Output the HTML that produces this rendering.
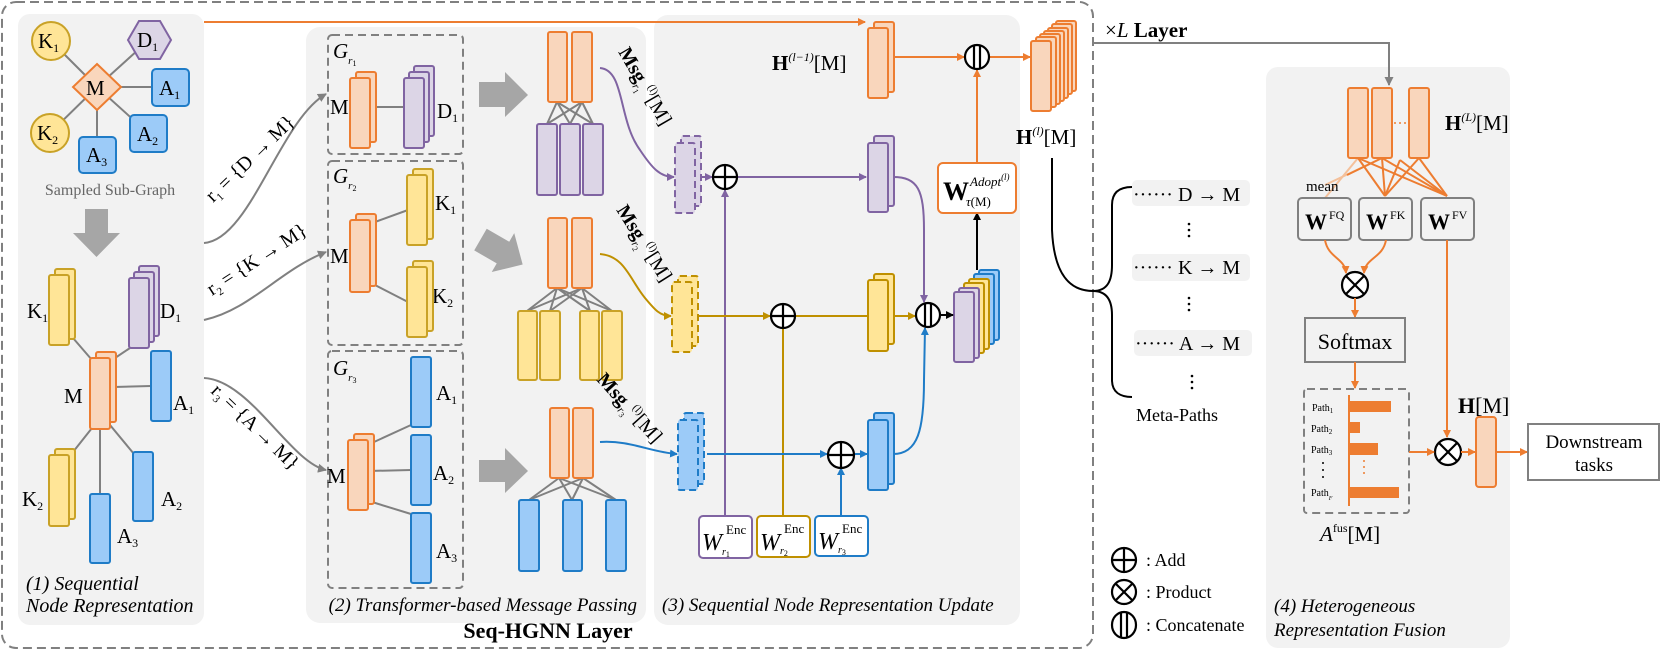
<!DOCTYPE html>
<html><head><meta charset="utf-8"><style>
html,body{margin:0;padding:0;background:#fff;}
svg{display:block;font-family:"Liberation Serif",serif;}
</style></head><body>
<svg width="1660" height="651" viewBox="0 0 1660 651" xmlns="http://www.w3.org/2000/svg">
<defs>
<marker id="ao" markerWidth="8" markerHeight="8" refX="7" refY="4" orient="auto" markerUnits="userSpaceOnUse"><path d="M0,0 L8,4 L0,8 z" fill="#ED7D31"/></marker>
<marker id="ap" markerWidth="8" markerHeight="8" refX="7" refY="4" orient="auto" markerUnits="userSpaceOnUse"><path d="M0,0 L8,4 L0,8 z" fill="#8064A2"/></marker>
<marker id="ay" markerWidth="8" markerHeight="8" refX="7" refY="4" orient="auto" markerUnits="userSpaceOnUse"><path d="M0,0 L8,4 L0,8 z" fill="#BF9000"/></marker>
<marker id="ab" markerWidth="8" markerHeight="8" refX="7" refY="4" orient="auto" markerUnits="userSpaceOnUse"><path d="M0,0 L8,4 L0,8 z" fill="#1F7CC7"/></marker>
<marker id="ag" markerWidth="9" markerHeight="9" refX="8" refY="4.5" orient="auto" markerUnits="userSpaceOnUse"><path d="M0,0 L9,4.5 L0,9 z" fill="#808080"/></marker>
<marker id="ak" markerWidth="8" markerHeight="8" refX="7" refY="4" orient="auto" markerUnits="userSpaceOnUse"><path d="M0,0 L8,4 L0,8 z" fill="#000"/></marker>
</defs>

<rect x="18" y="14" width="186" height="611" rx="12" fill="#F2F2F2"/>
<rect x="306" y="27" width="340" height="596" rx="14" fill="#F2F2F2"/>
<rect x="654" y="15" width="366" height="610" rx="14" fill="#F2F2F2"/>
<rect x="1266" y="67" width="244" height="581" rx="12" fill="#F2F2F2"/>
<rect x="2" y="2" width="1091" height="646" rx="14" fill="none" stroke="#808080" stroke-width="2" stroke-dasharray="9,5"/>

<line x1="204" y1="22" x2="865" y2="22" stroke="#ED7D31" stroke-width="2" marker-end="url(#ao)"/>

<!-- Panel 1 -->
<g stroke="#808080" stroke-width="2">
<line x1="97" y1="87" x2="51" y2="41"/><line x1="97" y1="87" x2="149" y2="40"/>
<line x1="97" y1="87" x2="170" y2="87"/><line x1="97" y1="87" x2="148" y2="133"/>
<line x1="97" y1="87" x2="97" y2="155"/><line x1="97" y1="87" x2="50" y2="133"/>
</g>
<circle cx="51" cy="41" r="19" fill="#FFE597" stroke="#C9A227" stroke-width="2"/>
<circle cx="50" cy="133" r="19" fill="#FFE597" stroke="#C9A227" stroke-width="2"/>
<polygon points="128,40 139,21 160,21 171,40 160,59 139,59" fill="#DCD5E6" stroke="#8064A2" stroke-width="2"/>
<polygon points="97,64 121,87 97,110 73,87" fill="#F9D6BC" stroke="#ED7D31" stroke-width="2"/>
<rect x="152" y="69" width="37" height="37" rx="4" fill="#9CCBF8" stroke="#1F7CC7" stroke-width="2"/>
<rect x="130" y="115" width="37" height="37" rx="4" fill="#9CCBF8" stroke="#1F7CC7" stroke-width="2"/>
<rect x="79" y="137" width="37" height="36" rx="4" fill="#9CCBF8" stroke="#1F7CC7" stroke-width="2"/>
<g font-size="21" fill="#000">
<text x="38" y="48">K<tspan font-size="12" dy="4">1</tspan></text>
<text x="37" y="140">K<tspan font-size="12" dy="4">2</tspan></text>
<text x="137" y="47">D<tspan font-size="12" dy="4">1</tspan></text>
<text x="86" y="95">M</text>
<text x="159" y="95">A<tspan font-size="12" dy="4">1</tspan></text>
<text x="137" y="141">A<tspan font-size="12" dy="4">2</tspan></text>
<text x="86" y="162">A<tspan font-size="12" dy="4">3</tspan></text>
</g>
<text x="110" y="195" font-size="16" fill="#666" text-anchor="middle">Sampled Sub-Graph</text>
<polygon points="85,209 108,209 108,233 120,233 96.5,257 73,233 85,233" fill="#A6A6A6"/>

<g stroke="#808080" stroke-width="2">
<line x1="73" y1="338" x2="92" y2="360"/><line x1="130" y1="348" x2="112" y2="360"/>
<line x1="114" y1="387" x2="151" y2="386"/><line x1="92" y1="428" x2="73" y2="452"/>
<line x1="100" y1="429" x2="100" y2="494"/><line x1="110" y1="425" x2="134" y2="454"/>
</g>
<rect x="55" y="269" width="20" height="70" rx="2" fill="#FFE597" stroke="#C9A227" stroke-width="2"/>
<rect x="49" y="275" width="20" height="70" rx="2" fill="#FFE597" stroke="#C9A227" stroke-width="2"/>
<rect x="139" y="266" width="20" height="70" rx="2" fill="#DCD5E6" stroke="#8064A2" stroke-width="2"/>
<rect x="134" y="272" width="20" height="70" rx="2" fill="#DCD5E6" stroke="#8064A2" stroke-width="2"/>
<rect x="129" y="278" width="20" height="70" rx="2" fill="#DCD5E6" stroke="#8064A2" stroke-width="2"/>
<rect x="96" y="352" width="20" height="70" rx="2" fill="#F9D6BC" stroke="#ED7D31" stroke-width="2"/>
<rect x="90" y="358" width="20" height="71" rx="2" fill="#F9D6BC" stroke="#ED7D31" stroke-width="2"/>
<rect x="151" y="351" width="20" height="70" rx="2" fill="#9CCBF8" stroke="#1F7CC7" stroke-width="2"/>
<rect x="55" y="449" width="20" height="70" rx="2" fill="#FFE597" stroke="#C9A227" stroke-width="2"/>
<rect x="49" y="455" width="20" height="71" rx="2" fill="#FFE597" stroke="#C9A227" stroke-width="2"/>
<rect x="90" y="494" width="20" height="69" rx="2" fill="#9CCBF8" stroke="#1F7CC7" stroke-width="2"/>
<rect x="133" y="452" width="20" height="69" rx="2" fill="#9CCBF8" stroke="#1F7CC7" stroke-width="2"/>
<g font-size="21" fill="#000">
<text x="27" y="318">K<tspan font-size="12" dy="4">1</tspan></text>
<text x="160" y="318">D<tspan font-size="12" dy="4">1</tspan></text>
<text x="64" y="403">M</text>
<text x="173" y="410">A<tspan font-size="12" dy="4">1</tspan></text>
<text x="22" y="506">K<tspan font-size="12" dy="4">2</tspan></text>
<text x="161" y="506">A<tspan font-size="12" dy="4">2</tspan></text>
<text x="117" y="543">A<tspan font-size="12" dy="4">3</tspan></text>
</g>
<g font-size="20" font-style="italic" fill="#000">
<text x="26" y="590">(1) Sequential</text>
<text x="26" y="612">Node Representation</text>
</g>

<g stroke="#808080" stroke-width="2" fill="none">
<path d="M204,243 C250,240 280,120 326,94" marker-end="url(#ag)"/>
<path d="M204,320 C250,310 280,270 326,252" marker-end="url(#ag)"/>
<path d="M204,378 C250,380 290,462 326,470" marker-end="url(#ag)"/>
</g>
<g font-size="20" fill="#000">
<text transform="translate(213,203) rotate(-44)">r<tspan font-size="11" dy="4">1</tspan><tspan dy="-4"> = {D → M}</tspan></text>
<text transform="translate(212,296) rotate(-33)">r<tspan font-size="11" dy="4">2</tspan><tspan dy="-4"> = {K → M}</tspan></text>
<text transform="translate(210,392) rotate(44)">r<tspan font-size="11" dy="4">3</tspan><tspan dy="-4"> = {A → M}</tspan></text>
</g>

<!-- Panel 2 -->
<g fill="none" stroke="#808080" stroke-width="2" stroke-dasharray="8,5">
<rect x="328" y="35" width="135" height="119" rx="4"/>
<rect x="328" y="161" width="135" height="184" rx="4"/>
<rect x="328" y="351" width="135" height="237" rx="4"/>
</g>
<g font-size="21" font-style="italic" fill="#000">
<text x="333" y="58">G<tspan font-size="11" dy="6">r</tspan><tspan font-size="8" dy="2" font-style="normal">1</tspan></text>
<text x="333" y="183">G<tspan font-size="11" dy="6">r</tspan><tspan font-size="8" dy="2" font-style="normal">2</tspan></text>
<text x="333" y="375">G<tspan font-size="11" dy="6">r</tspan><tspan font-size="8" dy="2" font-style="normal">3</tspan></text>
</g>
<g font-size="21" fill="#000">
<text x="330" y="114">M</text><text x="330" y="263">M</text><text x="327" y="483">M</text>
<text x="437" y="118">D<tspan font-size="12" dy="4">1</tspan></text>
<text x="435" y="210">K<tspan font-size="12" dy="4">1</tspan></text>
<text x="432" y="303">K<tspan font-size="12" dy="4">2</tspan></text>
<text x="436" y="400">A<tspan font-size="12" dy="4">1</tspan></text>
<text x="433" y="480">A<tspan font-size="12" dy="4">2</tspan></text>
<text x="436" y="558">A<tspan font-size="12" dy="4">3</tspan></text>
</g>
<g stroke="#808080" stroke-width="2">
<line x1="370" y1="107" x2="404" y2="107"/>
<line x1="375" y1="222" x2="408" y2="210"/><line x1="373" y1="284" x2="408" y2="302"/>
<line x1="374" y1="442" x2="411" y2="425"/><line x1="368" y1="471" x2="411" y2="470"/><line x1="372" y1="502" x2="411" y2="514"/>
</g>
<rect x="356" y="72" width="20" height="70" rx="2" fill="#F9D6BC" stroke="#ED7D31" stroke-width="2"/>
<rect x="350" y="78" width="20" height="70" rx="2" fill="#F9D6BC" stroke="#ED7D31" stroke-width="2"/>
<rect x="414" y="66" width="20" height="70" rx="2" fill="#DCD5E6" stroke="#8064A2" stroke-width="2"/>
<rect x="409" y="72" width="20" height="70" rx="2" fill="#DCD5E6" stroke="#8064A2" stroke-width="2"/>
<rect x="404" y="78" width="20" height="70" rx="2" fill="#DCD5E6" stroke="#8064A2" stroke-width="2"/>
<rect x="356" y="214" width="20" height="72" rx="2" fill="#F9D6BC" stroke="#ED7D31" stroke-width="2"/>
<rect x="350" y="220" width="20" height="72" rx="2" fill="#F9D6BC" stroke="#ED7D31" stroke-width="2"/>
<rect x="413" y="169" width="20" height="70" rx="2" fill="#FFE597" stroke="#C9A227" stroke-width="2"/>
<rect x="407" y="175" width="20" height="70" rx="2" fill="#FFE597" stroke="#C9A227" stroke-width="2"/>
<rect x="413" y="261" width="20" height="70" rx="2" fill="#FFE597" stroke="#C9A227" stroke-width="2"/>
<rect x="407" y="267" width="20" height="70" rx="2" fill="#FFE597" stroke="#C9A227" stroke-width="2"/>
<rect x="354" y="434" width="20" height="70" rx="2" fill="#F9D6BC" stroke="#ED7D31" stroke-width="2"/>
<rect x="348" y="440" width="20" height="70" rx="2" fill="#F9D6BC" stroke="#ED7D31" stroke-width="2"/>
<rect x="411" y="357" width="20" height="70" rx="2" fill="#9CCBF8" stroke="#1F7CC7" stroke-width="2"/>
<rect x="411" y="435" width="20" height="70" rx="2" fill="#9CCBF8" stroke="#1F7CC7" stroke-width="2"/>
<rect x="411" y="513" width="20" height="70" rx="2" fill="#9CCBF8" stroke="#1F7CC7" stroke-width="2"/>

<polygon points="479,82 505,82 505,72 528,95 505,117 505,107 479,107" fill="#A6A6A6"/>
<polygon points="479,82 505,82 505,72 528,95 505,117 505,107 479,107" fill="#A6A6A6" transform="translate(-2,157) rotate(30 503 95)"/>
<polygon points="479,460 505,460 505,448 528,471 505,493 505,482 479,482" fill="#A6A6A6"/>

<g stroke="#808080" stroke-width="2">
<line x1="557" y1="102" x2="547" y2="124"/><line x1="557" y1="102" x2="570" y2="124"/><line x1="557" y1="102" x2="593" y2="124"/>
<line x1="582" y1="102" x2="547" y2="124"/><line x1="582" y1="102" x2="570" y2="124"/><line x1="582" y1="102" x2="593" y2="124"/>
<line x1="557" y1="288" x2="527" y2="311"/><line x1="557" y1="288" x2="550" y2="311"/><line x1="557" y1="288" x2="590" y2="311"/><line x1="557" y1="288" x2="612" y2="311"/>
<line x1="582" y1="288" x2="527" y2="311"/><line x1="582" y1="288" x2="550" y2="311"/><line x1="582" y1="288" x2="590" y2="311"/><line x1="582" y1="288" x2="612" y2="311"/>
<line x1="559" y1="478" x2="529" y2="500"/><line x1="559" y1="478" x2="572" y2="500"/><line x1="559" y1="478" x2="616" y2="500"/>
<line x1="583" y1="478" x2="529" y2="500"/><line x1="583" y1="478" x2="572" y2="500"/><line x1="583" y1="478" x2="616" y2="500"/>
</g>
<g stroke-width="2">
<rect x="548" y="32" width="19" height="70" rx="2" fill="#F9D6BC" stroke="#ED7D31"/>
<rect x="572" y="32" width="20" height="70" rx="2" fill="#F9D6BC" stroke="#ED7D31"/>
<rect x="537" y="124" width="20" height="71" rx="2" fill="#DCD5E6" stroke="#8064A2"/>
<rect x="560" y="124" width="20" height="71" rx="2" fill="#DCD5E6" stroke="#8064A2"/>
<rect x="583" y="124" width="20" height="71" rx="2" fill="#DCD5E6" stroke="#8064A2"/>
<rect x="548" y="218" width="19" height="70" rx="2" fill="#F9D6BC" stroke="#ED7D31"/>
<rect x="572" y="218" width="20" height="70" rx="2" fill="#F9D6BC" stroke="#ED7D31"/>
<rect x="518" y="311" width="19" height="69" rx="2" fill="#FFE597" stroke="#C9A227"/>
<rect x="540" y="311" width="20" height="69" rx="2" fill="#FFE597" stroke="#C9A227"/>
<rect x="580" y="311" width="19" height="69" rx="2" fill="#FFE597" stroke="#C9A227"/>
<rect x="602" y="311" width="20" height="69" rx="2" fill="#FFE597" stroke="#C9A227"/>
<rect x="550" y="408" width="19" height="70" rx="2" fill="#F9D6BC" stroke="#ED7D31"/>
<rect x="573" y="408" width="20" height="70" rx="2" fill="#F9D6BC" stroke="#ED7D31"/>
<rect x="519" y="500" width="20" height="71" rx="2" fill="#9CCBF8" stroke="#1F7CC7"/>
<rect x="563" y="500" width="19" height="71" rx="2" fill="#9CCBF8" stroke="#1F7CC7"/>
<rect x="606" y="500" width="20" height="71" rx="2" fill="#9CCBF8" stroke="#1F7CC7"/>
</g>
<text x="637" y="611" font-size="19" font-style="italic" text-anchor="end">(2) Transformer-based Message Passing</text>
<text x="548" y="638" font-size="22" font-weight="bold" text-anchor="middle">Seq-HGNN Layer</text>

<path d="M600,68 C625,70 618,120 640,150 C652,168 660,177 674,177" fill="none" stroke="#8064A2" stroke-width="2" marker-end="url(#ap)"/>
<path d="M600,254 C625,256 630,280 645,298 C655,310 660,316 671,316" fill="none" stroke="#BF9000" stroke-width="2" marker-end="url(#ay)"/>
<path d="M600,442 C630,440 650,452 677,454" fill="none" stroke="#1F7CC7" stroke-width="2" marker-end="url(#ab)"/>
<g font-size="20" font-weight="bold" fill="#000">
<text transform="translate(618,52) rotate(60)">Msg<tspan font-size="11" font-weight="normal" font-style="italic" dy="5">r</tspan><tspan font-size="8" font-weight="normal" dy="2">1</tspan><tspan font-size="11" font-weight="normal" dy="-15">(l)</tspan><tspan dy="8" font-weight="normal">[M]</tspan></text>
<text transform="translate(616,210) rotate(58)">Msg<tspan font-size="11" font-weight="normal" font-style="italic" dy="5">r</tspan><tspan font-size="8" font-weight="normal" dy="2">2</tspan><tspan font-size="11" font-weight="normal" dy="-15">(l)</tspan><tspan dy="8" font-weight="normal">[M]</tspan></text>
<text transform="translate(596,380) rotate(48)">Msg<tspan font-size="11" font-weight="normal" font-style="italic" dy="5">r</tspan><tspan font-size="8" font-weight="normal" dy="2">3</tspan><tspan font-size="11" font-weight="normal" dy="-15">(l)</tspan><tspan dy="8" font-weight="normal">[M]</tspan></text>
</g>

<!-- Panel 3 -->
<g stroke-width="2" stroke-dasharray="7,4">
<rect x="681" y="136" width="20" height="70" rx="2" fill="#DCD5E6" stroke="#8064A2"/>
<rect x="675" y="143" width="20" height="70" rx="2" fill="#DCD5E6" stroke="#8064A2"/>
<rect x="678" y="276" width="20" height="70" rx="2" fill="#FFE597" stroke="#BF9000"/>
<rect x="672" y="282" width="20" height="70" rx="2" fill="#FFE597" stroke="#BF9000"/>
<rect x="684" y="413" width="20" height="71" rx="2" fill="#9CCBF8" stroke="#1F7CC7"/>
<rect x="678" y="420" width="20" height="70" rx="2" fill="#9CCBF8" stroke="#1F7CC7"/>
</g>
<line x1="701" y1="177" x2="712" y2="177" stroke="#8064A2" stroke-width="2" marker-end="url(#ap)"/>
<line x1="737" y1="177" x2="866" y2="177" stroke="#8064A2" stroke-width="2" marker-end="url(#ap)"/>
<line x1="725" y1="516" x2="725" y2="190" stroke="#8064A2" stroke-width="2" marker-end="url(#ap)"/>
<line x1="698" y1="316" x2="770" y2="316" stroke="#BF9000" stroke-width="2" marker-end="url(#ay)"/>
<line x1="795" y1="316" x2="868" y2="316" stroke="#BF9000" stroke-width="2"/>
<line x1="783" y1="516" x2="783" y2="328" stroke="#BF9000" stroke-width="2"/>
<line x1="888" y1="316" x2="915" y2="316" stroke="#BF9000" stroke-width="2" marker-end="url(#ay)"/>
<line x1="707" y1="454" x2="827" y2="454" stroke="#1F7CC7" stroke-width="2" marker-end="url(#ab)"/>
<line x1="841" y1="516" x2="841" y2="468" stroke="#1F7CC7" stroke-width="2" marker-end="url(#ab)"/>
<line x1="854" y1="454" x2="867" y2="454" stroke="#1F7CC7" stroke-width="2" marker-end="url(#ab)"/>
<path d="M893,177 C918,177 924,190 924,230 L924,302" fill="none" stroke="#8064A2" stroke-width="2" marker-end="url(#ap)"/>
<path d="M893,454 C918,454 924,430 924,380 L925,328" fill="none" stroke="#1F7CC7" stroke-width="2" marker-end="url(#ab)"/>
<g stroke-width="2">
<rect x="874" y="136" width="20" height="70" rx="2" fill="#DCD5E6" stroke="#8064A2"/>
<rect x="868" y="143" width="20" height="69" rx="2" fill="#DCD5E6" stroke="#8064A2"/>
<rect x="874" y="274" width="20" height="70" rx="2" fill="#FFE597" stroke="#BF9000"/>
<rect x="868" y="280" width="20" height="71" rx="2" fill="#FFE597" stroke="#BF9000"/>
<rect x="874" y="413" width="20" height="71" rx="2" fill="#9CCBF8" stroke="#1F7CC7"/>
<rect x="868" y="420" width="20" height="70" rx="2" fill="#9CCBF8" stroke="#1F7CC7"/>
<rect x="874" y="22" width="20" height="70" rx="2" fill="#F9D6BC" stroke="#ED7D31"/>
<rect x="868" y="28" width="20" height="70" rx="2" fill="#F9D6BC" stroke="#ED7D31"/>
<rect x="979" y="270" width="20" height="70" rx="2" fill="#9CCBF8" stroke="#1F7CC7"/>
<rect x="974" y="274" width="20" height="70" rx="2" fill="#9CCBF8" stroke="#1F7CC7"/>
<rect x="969" y="279" width="20" height="70" rx="2" fill="#FFE597" stroke="#BF9000"/>
<rect x="964" y="283" width="20" height="70" rx="2" fill="#FFE597" stroke="#BF9000"/>
<rect x="959" y="288" width="20" height="70" rx="2" fill="#DCD5E6" stroke="#8064A2"/>
<rect x="954" y="292" width="20" height="70" rx="2" fill="#DCD5E6" stroke="#8064A2"/>
</g>
<g stroke="#ED7D31" stroke-width="2" fill="#F9D6BC">
<rect x="1056" y="21" width="20" height="70" rx="2"/>
<rect x="1052" y="24" width="20" height="70" rx="2"/>
<rect x="1048" y="28" width="20" height="70" rx="2"/>
<rect x="1044" y="31" width="20" height="70" rx="2"/>
<rect x="1040" y="34" width="20" height="70" rx="2"/>
<rect x="1036" y="37" width="20" height="70" rx="2"/>
<rect x="1031" y="41" width="20" height="70" rx="2"/>
</g>
<line x1="893" y1="57" x2="964" y2="57" stroke="#ED7D31" stroke-width="2" marker-end="url(#ao)"/>
<line x1="990" y1="57" x2="1030" y2="57" stroke="#ED7D31" stroke-width="2" marker-end="url(#ao)"/>
<line x1="977" y1="163" x2="977" y2="70" stroke="#ED7D31" stroke-width="2" marker-end="url(#ao)"/>
<line x1="977" y1="270" x2="977" y2="213" stroke="#000" stroke-width="2" marker-end="url(#ak)"/>
<line x1="940" y1="315" x2="953" y2="315" stroke="#000" stroke-width="2" marker-end="url(#ak)"/>
<g fill="#fff" stroke="#000" stroke-width="2.2">
<circle cx="725" cy="177" r="12"/><line x1="713" y1="177" x2="737" y2="177"/><line x1="725" y1="165" x2="725" y2="189"/>
<circle cx="783" cy="316" r="12"/><line x1="771" y1="316" x2="795" y2="316"/><line x1="783" y1="304" x2="783" y2="328"/>
<circle cx="841" cy="455" r="13"/><line x1="828" y1="455" x2="854" y2="455"/><line x1="841" y1="442" x2="841" y2="468"/>
<circle cx="977" cy="57" r="12"/><line x1="974" y1="45" x2="974" y2="69"/><line x1="980" y1="45" x2="980" y2="69"/>
<circle cx="928" cy="315" r="12"/><line x1="925" y1="303" x2="925" y2="327"/><line x1="931" y1="303" x2="931" y2="327"/>
</g>
<rect x="938" y="163" width="78" height="50" rx="5" fill="#fff" stroke="#ED7D31" stroke-width="2"/>
<text x="943" y="200" font-size="26" font-weight="bold">W</text>
<text x="970" y="186" font-size="13" font-style="italic">Adopt<tspan font-size="9" dy="-6">(l)</tspan></text>
<text x="966" y="206" font-size="13"><tspan font-style="italic">τ</tspan>(M)</text>
<g stroke-width="2" fill="#fff">
<rect x="699" y="516" width="53" height="42" rx="4" stroke="#8064A2"/>
<rect x="757" y="516" width="53" height="41" rx="4" stroke="#BF9000"/>
<rect x="815" y="516" width="53" height="40" rx="4" stroke="#1F7CC7"/>
</g>
<g font-size="13">
<text x="702" y="550" font-size="24" font-style="italic">W</text><text x="726" y="534">Enc</text><text x="722" y="555" font-size="10" font-style="italic">r<tspan font-size="8" font-style="normal" dy="2">1</tspan></text>
<text x="760" y="550" font-size="24" font-style="italic">W</text><text x="784" y="533">Enc</text><text x="780" y="554" font-size="10" font-style="italic">r<tspan font-size="8" font-style="normal" dy="2">2</tspan></text>
<text x="818" y="549" font-size="24" font-style="italic">W</text><text x="842" y="533">Enc</text><text x="838" y="553" font-size="10" font-style="italic">r<tspan font-size="8" font-style="normal" dy="2">3</tspan></text>
</g>
<text x="772" y="70" font-size="21"><tspan font-weight="bold">H</tspan><tspan font-size="12" dy="-9" font-style="italic">(l−1)</tspan><tspan dy="9">[M]</tspan></text>
<text x="1016" y="144" font-size="21"><tspan font-weight="bold">H</tspan><tspan font-size="12" dy="-9" font-style="italic">(l)</tspan><tspan dy="9">[M]</tspan></text>
<text x="662" y="611" font-size="19" font-style="italic">(3) Sequential Node Representation Update</text>

<text x="1105" y="37" font-size="21"><tspan>×</tspan><tspan font-style="italic">L</tspan><tspan font-weight="bold"> Layer</tspan></text>
<path d="M1093,43 L1389,43 L1389,85" fill="none" stroke="#808080" stroke-width="2" marker-end="url(#ag)"/>

<path d="M1052,158 L1052,230 C1054,275 1070,291 1093,291" fill="none" stroke="#000" stroke-width="2"/>
<path d="M1093,291 C1108,291 1112,280 1112,265 L1112,205 C1112,192 1120,187 1132,187" fill="none" stroke="#000" stroke-width="2"/>
<path d="M1093,291 C1108,291 1112,302 1112,315 L1112,380 C1112,392 1120,397 1132,397" fill="none" stroke="#000" stroke-width="2"/>
<rect x="1132" y="180" width="118" height="26" rx="5" fill="#F2F2F2"/>
<rect x="1132" y="254" width="118" height="27" rx="5" fill="#F2F2F2"/>
<rect x="1134" y="330" width="118" height="26" rx="5" fill="#F2F2F2"/>
<g font-size="20">
<text x="1133" y="201">······ D → M</text>
<text x="1133" y="274">······ K → M</text>
<text x="1135" y="350">······ A → M</text>
</g>
<g fill="#000">
<circle cx="1189" cy="224" r="1.3"/><circle cx="1189" cy="230" r="1.3"/><circle cx="1189" cy="236" r="1.3"/>
<circle cx="1189" cy="298" r="1.3"/><circle cx="1189" cy="304" r="1.3"/><circle cx="1189" cy="310" r="1.3"/>
<circle cx="1192" cy="376" r="1.3"/><circle cx="1192" cy="382" r="1.3"/><circle cx="1192" cy="388" r="1.3"/>
</g>
<text x="1136" y="421" font-size="18">Meta-Paths</text>

<g fill="none" stroke="#000" stroke-width="2.2">
<circle cx="1124" cy="560" r="12"/><line x1="1112" y1="560" x2="1136" y2="560"/><line x1="1124" y1="548" x2="1124" y2="572"/>
<circle cx="1124" cy="592" r="12"/><line x1="1115.5" y1="583.5" x2="1132.5" y2="600.5"/><line x1="1132.5" y1="583.5" x2="1115.5" y2="600.5"/>
<ellipse cx="1124" cy="625" rx="12" ry="13"/><line x1="1121" y1="612" x2="1121" y2="638"/><line x1="1127" y1="612" x2="1127" y2="638"/>
</g>
<g font-size="18">
<text x="1146" y="566">: Add</text><text x="1146" y="598">: Product</text><text x="1146" y="631">: Concatenate</text>
</g>

<!-- Panel 4 -->
<g stroke-width="2">
<line x1="1358" y1="158" x2="1325" y2="198" stroke="#F4C09A"/>
<line x1="1382" y1="158" x2="1325" y2="185" stroke="#F4C09A"/>
</g>
<g stroke="#ED7D31" stroke-width="2">
<line x1="1358" y1="158" x2="1385" y2="196"/><line x1="1358" y1="158" x2="1447" y2="196"/>
<line x1="1382" y1="158" x2="1347" y2="175"/><line x1="1382" y1="158" x2="1385" y2="196"/><line x1="1382" y1="158" x2="1447" y2="196"/>
<line x1="1419" y1="158" x2="1385" y2="196"/><line x1="1419" y1="158" x2="1447" y2="196"/>
<line x1="1400" y1="160" x2="1385" y2="196"/><line x1="1400" y1="160" x2="1447" y2="196"/>
</g>
<g stroke="#ED7D31" stroke-width="2" fill="#F9D6BC">
<rect x="1348" y="88" width="20" height="70" rx="2"/>
<rect x="1372" y="88" width="20" height="70" rx="2"/>
<rect x="1409" y="88" width="20" height="70" rx="2"/>
</g>
<line x1="1394" y1="123" x2="1408" y2="123" stroke="#ED7D31" stroke-width="1.5" stroke-dasharray="2,3"/>
<text x="1445" y="130" font-size="21"><tspan font-weight="bold">H</tspan><tspan font-size="12" dy="-9" font-style="italic">(L)</tspan><tspan dy="9">[M]</tspan></text>
<text x="1306" y="191" font-size="15">mean</text>
<g fill="#F2F2F2" stroke="#808080" stroke-width="2">
<rect x="1298" y="198" width="53" height="42" rx="4"/>
<rect x="1359" y="198" width="53" height="42" rx="4"/>
<rect x="1421" y="198" width="53" height="42" rx="4"/>
</g>
<g font-size="12">
<text x="1305" y="229" font-size="22" font-weight="bold">W</text><text x="1329" y="219">FQ</text>
<text x="1366" y="229" font-size="22" font-weight="bold">W</text><text x="1390" y="219">FK</text>
<text x="1428" y="229" font-size="22" font-weight="bold">W</text><text x="1452" y="219">FV</text>
</g>
<path d="M1325,240 C1328,258 1345,258 1346,273" fill="none" stroke="#ED7D31" stroke-width="2" marker-end="url(#ao)"/>
<path d="M1386,240 C1383,258 1365,258 1364,273" fill="none" stroke="#ED7D31" stroke-width="2" marker-end="url(#ao)"/>
<g fill="#fff" stroke="#000" stroke-width="2.2">
<circle cx="1355" cy="285" r="13"/><line x1="1346" y1="276" x2="1364" y2="294"/><line x1="1364" y1="276" x2="1346" y2="294"/>
<circle cx="1448" cy="452" r="13"/><line x1="1439" y1="443" x2="1457" y2="461"/><line x1="1457" y1="443" x2="1439" y2="461"/>
</g>
<line x1="1355" y1="298" x2="1355" y2="317" stroke="#ED7D31" stroke-width="2" marker-end="url(#ao)"/>
<rect x="1305" y="318" width="100" height="44" fill="#F2F2F2" stroke="#808080" stroke-width="2"/>
<text x="1355" y="349" font-size="22" text-anchor="middle">Softmax</text>
<line x1="1355" y1="362" x2="1355" y2="388" stroke="#ED7D31" stroke-width="2" marker-end="url(#ao)"/>
<rect x="1304" y="389" width="105" height="124" rx="3" fill="none" stroke="#808080" stroke-width="2" stroke-dasharray="8,5"/>
<line x1="1349" y1="395" x2="1349" y2="506" stroke="#ED7D31" stroke-width="2"/>
<g fill="#ED7D31">
<rect x="1349" y="401" width="42" height="11"/>
<rect x="1349" y="422" width="11" height="11"/>
<rect x="1349" y="443" width="29" height="12"/>
<rect x="1349" y="487" width="50" height="11"/>
</g>
<line x1="1364" y1="460" x2="1364" y2="478" stroke="#ED7D31" stroke-width="1.5" stroke-dasharray="2,4"/>
<g font-size="10">
<text x="1312" y="411">Path<tspan font-size="7" dy="2">1</tspan></text>
<text x="1311" y="432">Path<tspan font-size="7" dy="2">2</tspan></text>
<text x="1311" y="453">Path<tspan font-size="7" dy="2">3</tspan></text>
<text x="1311" y="496">Path<tspan font-size="6" dy="4" font-style="italic">F</tspan></text>
</g>
<g fill="#000"><circle cx="1323" cy="463" r="1"/><circle cx="1323" cy="470" r="1"/><circle cx="1323" cy="477" r="1"/></g>
<text x="1320" y="541" font-size="21"><tspan font-style="italic">A</tspan><tspan font-size="12" dy="-9">fus</tspan><tspan dy="9">[M]</tspan></text>
<line x1="1447" y1="240" x2="1447" y2="437" stroke="#ED7D31" stroke-width="2" marker-end="url(#ao)"/>
<line x1="1409" y1="452" x2="1434" y2="452" stroke="#ED7D31" stroke-width="2" marker-end="url(#ao)"/>
<line x1="1461" y1="452" x2="1475" y2="452" stroke="#ED7D31" stroke-width="2" marker-end="url(#ao)"/>
<rect x="1476" y="417" width="20" height="70" rx="3" fill="#F9D6BC" stroke="#ED7D31" stroke-width="2"/>
<text x="1458" y="413" font-size="22"><tspan font-weight="bold">H</tspan>[M]</text>
<line x1="1496" y1="452" x2="1527" y2="452" stroke="#ED7D31" stroke-width="2" marker-end="url(#ao)"/>
<rect x="1528" y="424" width="131" height="56" fill="#fff" stroke="#808080" stroke-width="2"/>
<text x="1594" y="448" font-size="19" text-anchor="middle">Downstream</text>
<text x="1594" y="471" font-size="19" text-anchor="middle">tasks</text>
<g font-size="19" font-style="italic">
<text x="1274" y="612">(4) Heterogeneous</text>
<text x="1274" y="636">Representation Fusion</text>
</g>
</svg>
</body></html>
